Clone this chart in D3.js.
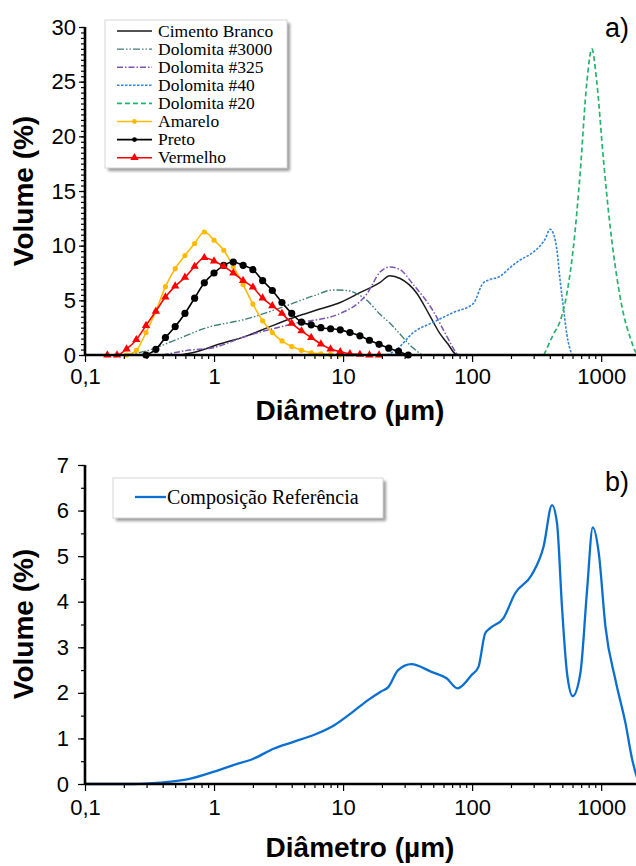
<!DOCTYPE html>
<html>
<head>
<meta charset="utf-8">
<script src="https://cdn.jsdelivr.net/npm/d3@7"></script>
<style>
body { margin: 0; background: #fff; }
svg text { font-family: "Liberation Sans", Arial, sans-serif; fill: #000; }
.serif { font-family: "Liberation Serif", "Times New Roman", serif; }
</style>
</head>
<body>
<script>
// ---------- panel a) : particle size distribution of the raw materials ----------
var legendA = ["Cimento Branco", "Dolomita #3000", "Dolomita #325", "Dolomita #40",
               "Dolomita #20", "Amarelo", "Preto", "Vermelho"];

var diamCimento = [0.55, 0.73, 1.1, 1.8, 2.6, 4.1, 6.6, 9.5, 13.5, 19.4, 23, 27.7, 37, 47, 56, 65, 74, 81];
var volCimento  = [0, 0.3, 1.0, 1.75, 2.5, 3.4, 4.2, 4.8, 5.7, 6.65, 7.25, 7.0, 5.7, 3.6, 2.0, 1.0, 0.12, 0];

var diamD3000 = [0.197, 0.3, 0.484, 0.879, 1.79, 3.08, 5.87, 8.41, 10.7, 12.8, 15.3, 19.4, 23.1, 27.7, 33, 37.2, 40.8];
var volD3000  = [0, 0.37, 1.3, 2.5, 3.3, 4.2, 5.4, 5.95, 5.9, 5.6, 5.0, 3.7, 2.9, 1.9, 0.9, 0.37, 0];

var diamD325 = [0.4, 0.65, 0.98, 1.8, 4.1, 9.5, 15.3, 19.4, 23.1, 27.7, 34.7, 50, 63.7, 71, 77];
var volD325  = [0, 0.45, 0.67, 1.75, 2.85, 3.8, 5.6, 7.6, 8.05, 7.8, 6.5, 4.0, 1.7, 0.67, 0];

var diamD40 = [22, 26, 35, 50, 72, 102, 122, 138, 165, 197, 236, 282, 337, 368, 402, 427, 454, 481, 510, 542, 593];
var volD40  = [0, 0.5, 2.05, 3.0, 3.9, 4.7, 6.6, 6.9, 7.2, 8.0, 8.7, 9.2, 10.0, 10.6, 11.5, 11.1, 9.6, 6.8, 4.35, 1.9, 0];

var diamD20 = [360, 427, 481, 542, 610, 687, 774, 847, 926, 1043, 1175, 1324, 1490, 1679, 1835, 2000];
var volD20  = [0, 1.9, 3.1, 5.6, 9.9, 16.6, 24.9, 28, 24.9, 17.8, 11.7, 7.1, 3.74, 1.6, 0.37, 0];

var diamAmarelo = [0.21, 0.25, 0.297, 0.354, 0.42, 0.5, 0.595, 0.707, 0.841, 1.0, 1.19, 1.41, 1.68, 2.0,
                   2.38, 2.83, 3.36, 4.0, 4.76, 5.66, 6.73, 8.0, 9.51];
var volAmarelo  = [0, 0.43, 2.05, 4.0, 6.25, 7.9, 9.1, 10.2, 11.25, 10.5, 9.57, 8.1, 6.44, 4.66,
                   3.13, 2.05, 1.29, 0.77, 0.43, 0.2, 0.1, 0.05, 0];

var diamPreto = [0.297, 0.354, 0.42, 0.5, 0.595, 0.707, 0.841, 1.0, 1.19, 1.41, 1.68, 2.0, 2.38, 2.83,
                 3.36, 4.0, 4.76, 5.66, 6.73, 8.0, 9.51, 11.3, 13.5, 16, 19, 22.6, 26.9, 32];
var volPreto  = [0, 0.52, 1.6, 2.6, 3.8, 5.2, 6.6, 7.5, 8.2, 8.5, 8.2, 7.8, 6.8, 5.9,
                 4.8, 3.8, 3.0, 2.76, 2.5, 2.4, 2.3, 2.05, 1.75, 1.35, 0.98, 0.62, 0.33, 0];

var diamVermelho = [0.149, 0.177, 0.21, 0.25, 0.297, 0.354, 0.42, 0.5, 0.595, 0.707, 0.841, 1.0, 1.19, 1.41,
                    1.68, 2.0, 2.38, 2.83, 3.36, 4.0, 4.76, 5.66, 6.73, 8.0, 9.51, 11.3, 13.5, 16, 19];
var volVermelho  = [0, 0, 0.55, 1.4, 2.7, 4.0, 5.3, 6.3, 7.1, 8.1, 8.9, 8.6, 8.1, 7.5,
                    6.8, 6.2, 5.2, 4.5, 3.8, 2.9, 2.2, 1.6, 1.0, 0.55, 0.3, 0.1, 0.05, 0, 0];

// ---------- panel b) : reference composition ----------
var legendB = ["Composição Referência"];
var diamRef = [0.1, 0.238, 0.384, 0.618, 1.0, 1.43, 2.04, 2.92, 4.18, 5.98, 8.55, 11.5, 15.6, 19.7, 22.3,
               26.7, 33.8, 48.4, 63.4, 77.1, 99.1, 112, 126, 138, 175, 215, 290, 358, 416, 455,
               497, 544, 602, 690, 778, 861, 959, 1080, 1291, 1545, 1742, 1940];
var volRef  = [0, 0, 0.03, 0.1, 0.27, 0.42, 0.56, 0.78, 0.93, 1.08, 1.29, 1.55, 1.84, 2.03, 2.12,
               2.5, 2.63, 2.46, 2.32, 2.1, 2.39, 2.57, 3.3, 3.42, 3.64, 4.18, 4.59, 5.21, 6.12, 5.72,
               3.89, 2.43, 1.93, 2.43, 4.26, 5.63, 5.06, 3.45, 2.28, 1.33, 0.53, 0.05];

// ticks
var xTickValues = [0.1, 1, 10, 100, 1000];
var xTickLabels = ["0,1", "1", "10", "100", "1000"];
var yTicksA = [0, 5, 10, 15, 20, 25, 30];
var yTicksB = [0, 1, 2, 3, 4, 5, 6, 7];

var W = 636, H = 866;
var svg = d3.select("body").append("svg").attr("width", W).attr("height", H);

var blur = svg.append("defs").append("filter").attr("id", "blur")
  .attr("x", "-10%").attr("y", "-10%").attr("width", "130%").attr("height", "140%");
blur.append("feGaussianBlur").attr("stdDeviation", 1.4);

var seriesA = [
  { name: legendA[0], d: diamCimento, v: volCimento, color: "#1a1a1a", w: 1.5, dash: null },
  { name: legendA[1], d: diamD3000, v: volD3000, color: "#3e8078", w: 1.4, dash: "7,2,1.5,2,1.5,2" },
  { name: legendA[2], d: diamD325, v: volD325, color: "#7a55b8", w: 1.5, dash: "6,2,1.5,2" },
  { name: legendA[3], d: diamD40, v: volD40, color: "#3283d4", w: 1.6, dash: "2.5,1.5" },
  { name: legendA[4], d: diamD20, v: volD20, color: "#25b36f", w: 1.7, dash: "5,3" },
  { name: legendA[5], d: diamAmarelo, v: volAmarelo, color: "#ffba00", w: 1.6, dash: null, mark: "dot", r: 2.6 },
  { name: legendA[6], d: diamPreto, v: volPreto, color: "#000000", w: 1.6, dash: null, mark: "dot", r: 3.6 },
  { name: legendA[7], d: diamVermelho, v: volVermelho, color: "#ff0000", w: 1.6, dash: null, mark: "tri" }
];
var seriesB = [
  { name: legendB[0], d: diamRef, v: volRef, color: "#0a6fd0", w: 2.3, dash: null }
];

function drawMark(sel, s, px, py) {
  if (s.mark === "dot") {
    sel.append("circle").attr("cx", px).attr("cy", py).attr("r", s.r).attr("fill", s.color);
  } else if (s.mark === "tri") {
    sel.append("path").attr("d", d3.symbol(d3.symbolTriangle, 30)())
      .attr("transform", "translate(" + px + "," + py + ")").attr("fill", s.color);
  }
}

function panel(opt) {
  var x = d3.scaleLog().domain([0.1, 2000]).range([85, 640]);
  var y = d3.scaleLinear().domain([0, opt.ymax]).range([opt.y0, opt.y1]);
  var g = svg.append("g");

  var line = d3.line()
    .x(function(p) { return x(p[0]); })
    .y(function(p) { return y(p[1]); })
    .curve(d3.curveMonotoneX);

  opt.series.forEach(function(s) {
    var pts = d3.zip(s.d, s.v);
    g.append("path").attr("d", line(pts))
      .attr("fill", "none").attr("stroke", s.color).attr("stroke-width", s.w)
      .attr("stroke-dasharray", s.dash).attr("stroke-linejoin", "round");
    if (s.mark) {
      var mg = g.append("g");
      pts.forEach(function(p) { drawMark(mg, s, x(p[0]), y(p[1])); });
    }
  });

  // minor x ticks from the log scale
  var minors = x.ticks().filter(function(t) { return xTickValues.indexOf(t) < 0; });
  var ax = g.append("g").attr("transform", "translate(0," + opt.y0 + ")");
  ax.call(d3.axisBottom(x).tickValues(minors).tickSize(4).tickFormat(""));
  ax.append("g").call(d3.axisBottom(x).tickValues(xTickValues).tickSize(7).tickPadding(opt.xPad)
    .tickFormat(function(t, i) { return xTickLabels[i]; }));

  var ay = g.append("g").attr("transform", "translate(85,0)");
  ay.call(d3.axisLeft(y).ticks(opt.ymax * 2).tickSize(4).tickFormat(""));
  ay.append("g").call(d3.axisLeft(y).tickValues(opt.yTicks).tickSize(opt.ySize).tickPadding(opt.yPad)
    .tickFormat(d3.format("d")));

  g.selectAll(".domain").remove();
  g.selectAll(".tick line").attr("stroke", "#000").attr("stroke-width", 1.2);
  g.selectAll(".tick text").attr("font-size", 22).attr("fill", "#000")
    .attr("font-family", "Liberation Sans, Arial, sans-serif");

  // axis lines
  g.append("line").attr("x1", 85).attr("x2", 640).attr("y1", opt.y0).attr("y2", opt.y0)
    .attr("stroke", "#000").attr("stroke-width", 2.6);
  g.append("line").attr("x1", 85).attr("x2", 85).attr("y1", opt.y1).attr("y2", opt.y0 + 1)
    .attr("stroke", "#000").attr("stroke-width", 2.6);

  // titles
  g.append("text").attr("transform", "translate(33," + opt.yTitle + ") rotate(-90)")
    .attr("text-anchor", "middle").attr("font-size", 28).attr("font-weight", "bold").text("Volume (%)");
  g.append("text").attr("x", opt.xTitleX).attr("y", opt.xTitleY)
    .attr("text-anchor", "middle").attr("font-size", 28).attr("font-weight", "bold").text("Diâmetro (µm)");
  g.append("text").attr("x", 605).attr("y", opt.tagY).attr("font-size", 27).text(opt.tag);

  // legend
  var lg = svg.append("g").attr("transform", "translate(" + opt.leg.x + "," + opt.leg.y + ")");
  lg.append("rect").attr("x", 3).attr("y", 3).attr("width", opt.leg.w).attr("height", opt.leg.h)
    .attr("fill", "#9a9a9a").attr("filter", "url(#blur)");
  lg.append("rect").attr("width", opt.leg.w).attr("height", opt.leg.h)
    .attr("fill", "#fff").attr("stroke", "#d6d6d6");
  opt.series.forEach(function(s, i) {
    var cy = opt.leg.top + i * opt.leg.step;
    lg.append("line").attr("x1", opt.leg.lx0).attr("x2", opt.leg.lx1).attr("y1", cy).attr("y2", cy)
      .attr("stroke", s.color).attr("stroke-width", s.w).attr("stroke-dasharray", s.dash);
    if (s.mark) drawMark(lg, { mark: s.mark, color: s.color, r: 2.4 }, (opt.leg.lx0 + opt.leg.lx1) / 2, cy);
    lg.append("text").attr("class", "serif").attr("x", opt.leg.tx).attr("y", cy).attr("dy", "0.33em")
      .attr("font-size", opt.leg.fs).text(s.name);
  });
}

panel({
  series: seriesA, ymax: 30, y0: 355, y1: 27, yTicks: yTicksA,
  ySize: 6, yPad: 3, xPad: 6, yTitle: 191, xTitleX: 350, xTitleY: 420, tag: "a)", tagY: 37,
  leg: { x: 105, y: 20, w: 182, h: 148, top: 11, step: 18.1, lx0: 12, lx1: 47, tx: 53, fs: 17.5 }
});

panel({
  series: seriesB, ymax: 7, y0: 784, y1: 465, yTicks: yTicksB,
  ySize: 7, yPad: 9, xPad: 8, yTitle: 624, xTitleX: 360, xTitleY: 857, tag: "b)", tagY: 491,
  leg: { x: 113, y: 478, w: 270, h: 40, top: 19, step: 20, lx0: 22, lx1: 53, tx: 54, fs: 20 }
});
</script>
</body>
</html>
